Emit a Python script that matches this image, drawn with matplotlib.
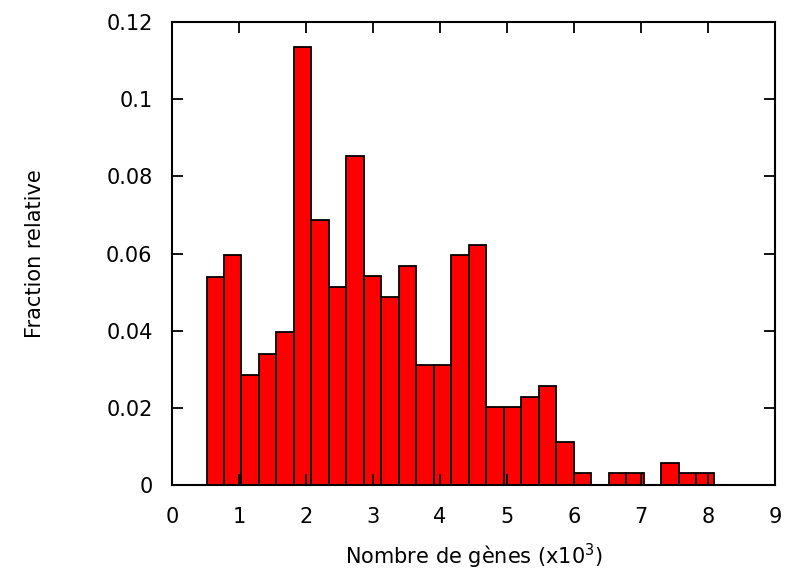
import numpy as np
import matplotlib.pyplot as plt

# histogram data (bins of equal width starting near 0.5 x10^3 genes)
bin_start = 0.515
bin_width = 0.261
fractions = [0.0540, 0.0596, 0.0285, 0.0340, 0.0396, 0.1136, 0.0687, 0.0514,
             0.0853, 0.0542, 0.0486, 0.0568, 0.0311, 0.0311, 0.0596, 0.0622,
             0.0201, 0.0201, 0.0229, 0.0257, 0.0112, 0.0030, 0.0, 0.0030,
             0.0030, 0.0, 0.0056, 0.0030, 0.0030]
x_ticks = list(range(0, 10))
y_ticks = [0, 0.02, 0.04, 0.06, 0.08, 0.1, 0.12]
y_tick_labels = ['0', '0.02', '0.04', '0.06', '0.08', '0.1', '0.12']

plt.rcParams['font.family'] = ['DejaVu Sans']

fig = plt.figure(figsize=(7.96, 5.76), dpi=100)
ax = fig.add_axes([172 / 796, 1 - 485 / 576, 603 / 796, 463 / 576])

lefts = bin_start + bin_width * np.arange(len(fractions))
ax.bar(lefts, fractions, width=bin_width, align='edge',
       color='#ff0000', edgecolor='black', linewidth=1.3)

ax.set_xlim(0, 9)
ax.set_ylim(0, 0.12)
ax.set_xticks(x_ticks)
ax.set_yticks(y_ticks)
ax.set_yticklabels(y_tick_labels)
ax.tick_params(direction='in', length=8, width=1.3, top=True, right=True,
               labelsize=15)
ax.tick_params(axis='y', pad=14)
ax.tick_params(axis='x', pad=16)
for s in ax.spines.values():
    s.set_linewidth(1.5)

ax.set_xlabel('Nombre de gènes (x10$^3$)', fontsize=15, va='center')
ax.xaxis.set_label_coords(0.5, -0.155)
ax.set_ylabel('Fraction relative', fontsize=15, va='center')
ax.yaxis.set_label_coords(-0.227, 0.5)

fig.savefig('out.png', dpi=100)
